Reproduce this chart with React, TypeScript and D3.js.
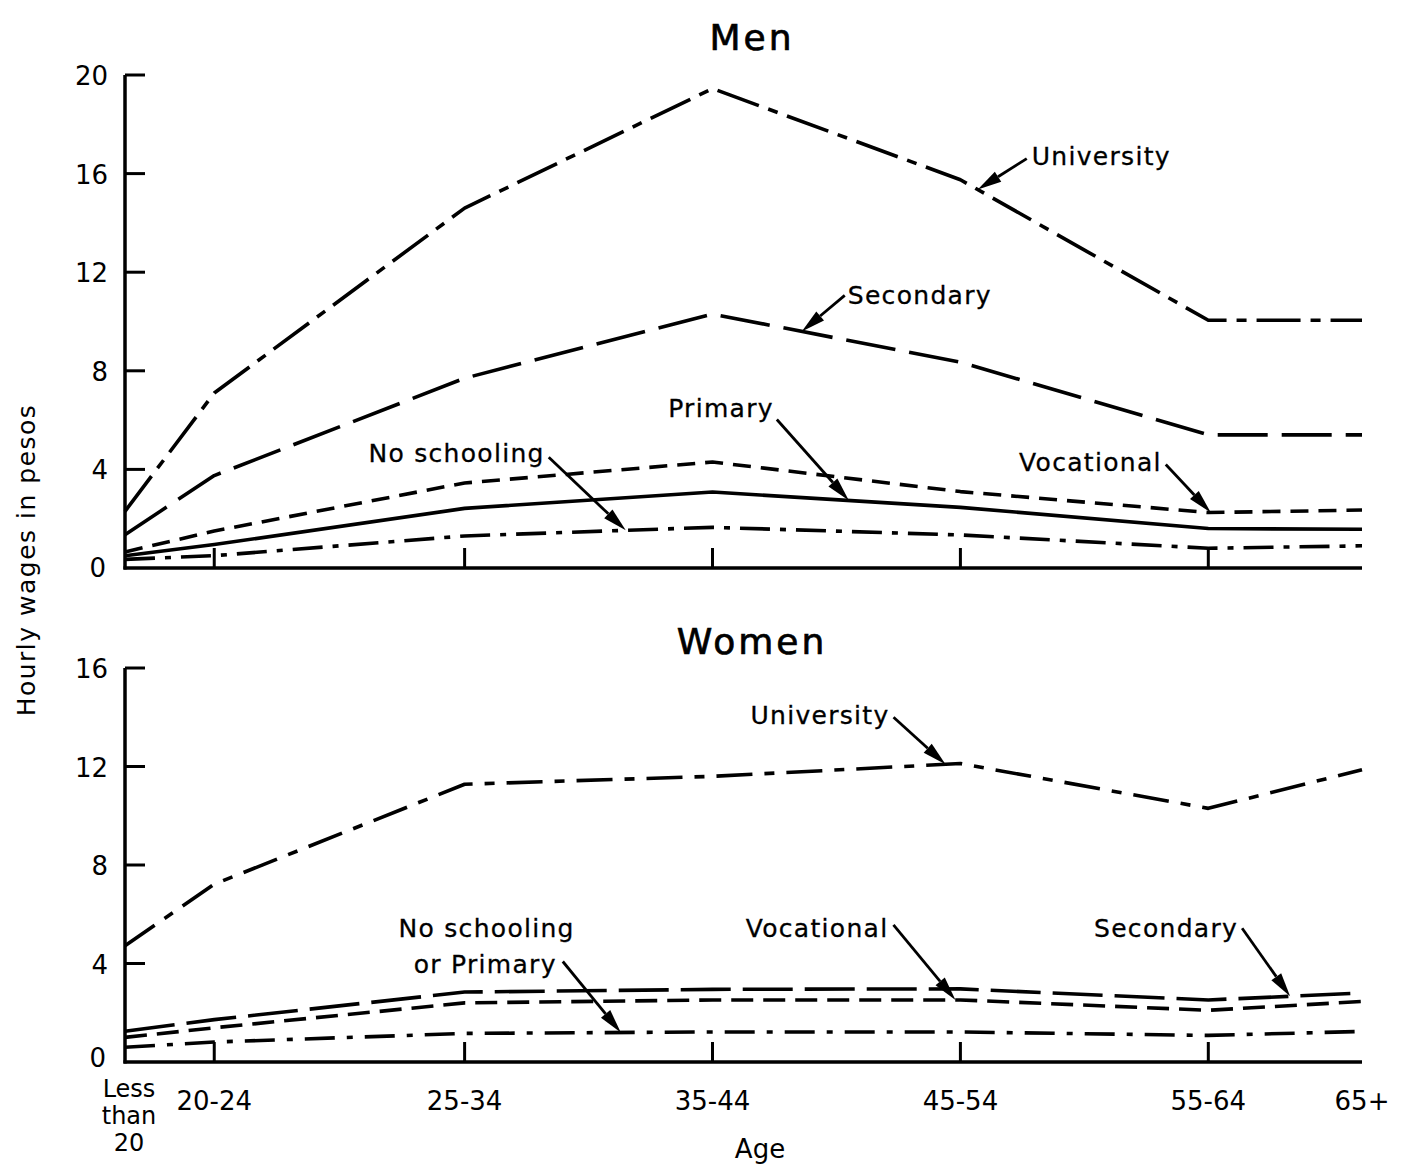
import React from 'react';
import * as d3 from 'd3';

// age groups and where they sit along the axis (in "decade" steps from the y-axis)
const ageGroups = ['Less than 20', '20-24', '25-34', '35-44', '45-54', '55-64', '65+'];
const agePos = [0, 0.36, 1.37, 2.37, 3.37, 4.37, 4.99];

// hourly wages in pesos, men
const menUniversity = [2.3, 7.1, 14.6, 19.45, 15.75, 10.05, 10.05];
const menSecondary = [1.35, 3.75, 7.7, 10.3, 8.35, 5.4, 5.4];
const menVocational = [0.65, 1.5, 3.45, 4.3, 3.1, 2.25, 2.35];
const menPrimary = [0.5, 0.95, 2.42, 3.08, 2.46, 1.6, 1.57];
const menNoSchooling = [0.35, 0.5, 1.3, 1.65, 1.34, 0.8, 0.9];

// hourly wages in pesos, women
const womenUniversity = [4.72, 7.22, 11.28, 11.6, 12.12, 10.3, 11.87];
const womenSecondary = [1.25, 1.72, 2.84, 2.95, 2.97, 2.52, 2.8];
const womenVocational = [1.0, 1.39, 2.4, 2.52, 2.52, 2.1, 2.46];
const womenNoSchooling = [0.6, 0.81, 1.16, 1.22, 1.22, 1.08, 1.24];

const menTicks = [0, 4, 8, 12, 16, 20];
const womenTicks = [0, 4, 8, 12, 16];

const FONT = '"DejaVu Sans", sans-serif';
const X0 = 125;
const X1 = 1362;
const x = d3.scaleLinear().domain([0, 4.99]).range([X0, X1]);

type Series = { name: string; values: number[]; dash: string };
type Note = {
  series: string;
  at: number;
  tail: [number, number];
  lines: { text: string; dx: number; dy: number; anchor: 'start' | 'end' }[];
};

const menSeries: Series[] = [
  { name: 'University', values: menUniversity, dash: '44 10 10 10' },
  { name: 'Secondary', values: menSecondary, dash: '50 14' },
  { name: 'Vocational', values: menVocational, dash: '18 10' },
  { name: 'Primary', values: menPrimary, dash: 'none' },
  { name: 'No schooling', values: menNoSchooling, dash: '30 10 6 10' },
];

const womenSeries: Series[] = [
  { name: 'University', values: womenUniversity, dash: '36 12 10 12' },
  { name: 'Secondary', values: womenSecondary, dash: '50 12' },
  { name: 'Vocational', values: womenVocational, dash: '22 10' },
  { name: 'No schooling', values: womenNoSchooling, dash: '30 12 6 12' },
];

const menNotes: Note[] = [
  { series: 'University', at: 3.44, tail: [49, -31], lines: [{ text: 'University', dx: 54, dy: -25, anchor: 'start' }] },
  { series: 'Secondary', at: 2.73, tail: [43, -36], lines: [{ text: 'Secondary', dx: 46, dy: -27, anchor: 'start' }] },
  { series: 'Primary', at: 2.92, tail: [-72, -81], lines: [{ text: 'Primary', dx: -75, dy: -83, anchor: 'end' }] },
  { series: 'No schooling', at: 2.02, tail: [-77, -73], lines: [{ text: 'No schooling', dx: -81, dy: -68, anchor: 'end' }] },
  { series: 'Vocational', at: 4.38, tail: [-45, -48], lines: [{ text: 'Vocational', dx: -49, dy: -41, anchor: 'end' }] },
];

const womenNotes: Note[] = [
  { series: 'University', at: 3.31, tail: [-52, -47], lines: [{ text: 'University', dx: -56, dy: -40, anchor: 'end' }] },
  {
    series: 'No schooling',
    at: 2.0,
    tail: [-58, -71],
    lines: [
      { text: 'No schooling', dx: -46, dy: -96, anchor: 'end' },
      { text: 'or Primary', dx: -64, dy: -60, anchor: 'end' },
    ],
  },
  { series: 'Vocational', at: 3.35, tail: [-62, -75], lines: [{ text: 'Vocational', dx: -67, dy: -63, anchor: 'end' }] },
  { series: 'Secondary', at: 4.7, tail: [-48, -68], lines: [{ text: 'Secondary', dx: -52, dy: -59, anchor: 'end' }] },
];

function valueAt(values: number[], at: number) {
  const interp = d3.scaleLinear().domain(agePos).range(values);
  return interp(at);
}

function Arrow({ x1, y1, x2, y2 }: { x1: number; y1: number; x2: number; y2: number }) {
  const ang = Math.atan2(y2 - y1, x2 - x1);
  const len = 24;
  const hw = 6;
  const bx = x2 - len * Math.cos(ang);
  const by = y2 - len * Math.sin(ang);
  const px = -Math.sin(ang) * hw;
  const py = Math.cos(ang) * hw;
  return (
    <g>
      <line x1={x1} y1={y1} x2={bx} y2={by} stroke="#000" strokeWidth={2.8} />
      <path d={`M${x2},${y2}L${bx + px},${by + py}L${bx - px},${by - py}Z`} fill="#000" />
    </g>
  );
}

function Panel({
  title,
  titleY,
  series,
  notes,
  ticks,
  yMax,
  top,
  bottom,
  zeroShift,
}: {
  title: string;
  titleY: number;
  series: Series[];
  notes: Note[];
  ticks: number[];
  yMax: number;
  top: number;
  bottom: number;
  zeroShift: number;
}) {
  const y = d3.scaleLinear().domain([0, yMax]).range([bottom, top]);
  const line = d3
    .line<number>()
    .x((_, i) => x(agePos[i]))
    .y((d) => y(d));

  return (
    <g>
      <text
        x={752}
        y={titleY}
        textAnchor="middle"
        fontFamily={FONT}
        fontSize={36}
        letterSpacing={3}
        fill="#000"
        stroke="#000"
        strokeWidth={0.7}
      >
        {title}
      </text>

      {series.map((s) => (
        <path
          key={s.name}
          d={line(s.values) || ''}
          fill="none"
          stroke="#000"
          strokeWidth={3.6}
          strokeDasharray={s.dash}
          strokeLinejoin="round"
        />
      ))}

      {/* axes */}
      <line x1={X0} y1={y(yMax)} x2={X0} y2={bottom + 1.5} stroke="#000" strokeWidth={3.5} />
      <line x1={X0 - 1.5} y1={bottom} x2={X1} y2={bottom} stroke="#000" strokeWidth={3.5} />
      {ticks.map((t) => (
        <g key={t}>
          {t > 0 && <line x1={X0} y1={y(t)} x2={X0 + 20} y2={y(t)} stroke="#000" strokeWidth={3} />}
          <text
            x={t === 0 ? 106 : 108}
            y={y(t) + (t === 0 ? zeroShift : 10)}
            textAnchor="end"
            fontFamily={FONT}
            fontSize={26}
            fill="#000"
          >
            {t}
          </text>
        </g>
      ))}
      {agePos.slice(1, -1).map((p) => (
        <line key={p} x1={x(p)} y1={bottom} x2={x(p)} y2={bottom - 20} stroke="#000" strokeWidth={3} />
      ))}

      {notes.map((n) => {
        const s = series.find((d) => d.name === n.series)!;
        const tx = x(n.at);
        const ty = y(valueAt(s.values, n.at));
        return (
          <g key={n.series}>
            <Arrow x1={tx + n.tail[0]} y1={ty + n.tail[1]} x2={tx} y2={ty} />
            {n.lines.map((l) => (
              <text
                key={l.text}
                x={tx + l.dx}
                y={ty + l.dy}
                textAnchor={l.anchor}
                fontFamily={FONT}
                fontSize={25}
                letterSpacing={1.3}
                fill="#000"
                stroke="#000"
                strokeWidth={0.3}
              >
                {l.text}
              </text>
            ))}
          </g>
        );
      })}
    </g>
  );
}

export default function App() {
  return (
    <svg
      width={1404}
      height={1168}
      style={{ position: 'absolute', left: 0, top: 0, background: '#fff' }}
    >
      <rect width={1404} height={1168} fill="#fff" />
      <Panel
        title="Men"
        titleY={50}
        series={menSeries}
        notes={menNotes}
        ticks={menTicks}
        yMax={20}
        top={75}
        bottom={568}
        zeroShift={9}
      />
      <Panel
        title="Women"
        titleY={654}
        series={womenSeries}
        notes={womenNotes}
        ticks={womenTicks}
        yMax={16}
        top={668}
        bottom={1062}
        zeroShift={5}
      />

      {/* x-axis labels */}
      {ageGroups.map((g, i) => {
        const parts = i === 0 ? g.split(' ') : [g];
        return parts.map((p, j) => (
          <text
            key={g + j}
            x={i === 0 ? x(agePos[i]) + 4 : x(agePos[i])}
            y={i === 0 ? 1097 + j * 27 : 1110}
            textAnchor="middle"
            fontFamily={FONT}
            fontSize={i === 0 ? 24 : 26}
            fill="#000"
          >
            {p}
          </text>
        ));
      })}
      <text x={760} y={1158} textAnchor="middle" fontFamily={FONT} fontSize={26} fill="#000">
        Age
      </text>
      <text
        transform="translate(35,560) rotate(-90)"
        textAnchor="middle"
        fontFamily={FONT}
        fontSize={25}
        letterSpacing={1.5}
        fill="#000"
      >
        Hourly wages in pesos
      </text>
    </svg>
  );
}
